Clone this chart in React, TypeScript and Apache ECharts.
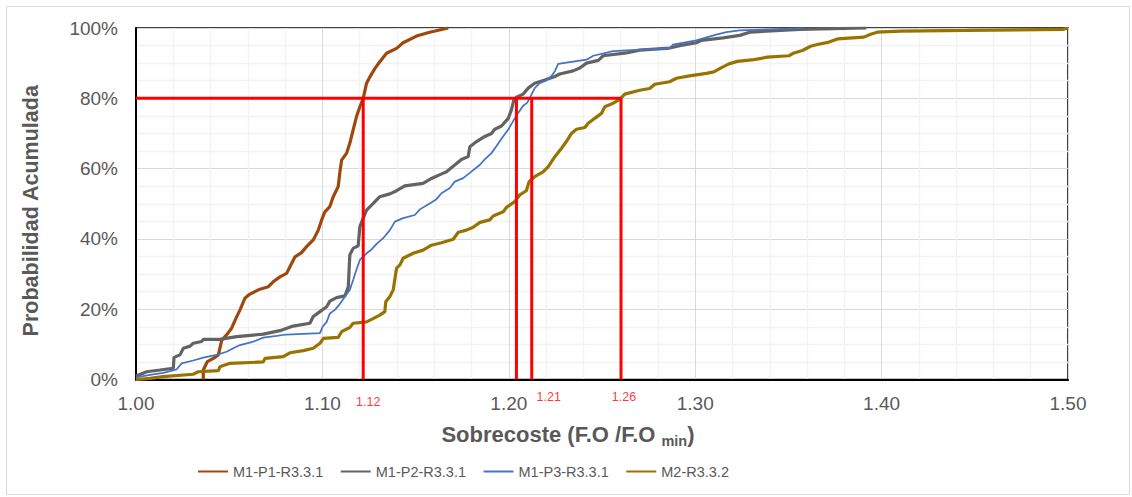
import React, { useEffect, useRef } from "react";
import * as echarts from "echarts";

const seriesNames = ["M1-P1-R3.3.1", "M1-P2-R3.3.1", "M1-P3-R3.3.1", "M2-R3.3.2"];

const m1p1: number[][] = [
  [1.0361, 0], [1.0361, 0.027], [1.0383, 0.051], [1.0415, 0.06], [1.0442, 0.07], [1.046, 0.112],
  [1.0486, 0.127], [1.0513, 0.146], [1.0536, 0.174], [1.0558, 0.198], [1.0584, 0.231], [1.0611, 0.243],
  [1.0665, 0.257], [1.071, 0.264], [1.0736, 0.278], [1.0772, 0.292], [1.0808, 0.302], [1.0826, 0.321],
  [1.0853, 0.349], [1.0888, 0.361], [1.0915, 0.378], [1.0951, 0.397], [1.0978, 0.425], [1.0996, 0.454],
  [1.1013, 0.477], [1.104, 0.492], [1.1058, 0.52], [1.1085, 0.549], [1.1094, 0.591], [1.1103, 0.624],
  [1.113, 0.644], [1.1147, 0.672], [1.1165, 0.71], [1.1183, 0.748], [1.1201, 0.776], [1.1219, 0.8],
  [1.1237, 0.843], [1.1255, 0.861], [1.1282, 0.885], [1.1308, 0.904], [1.1344, 0.928], [1.1398, 0.942],
  [1.1433, 0.958], [1.1505, 0.977], [1.1576, 0.988], [1.1675, 1.0],
];

const m1p2: number[][] = [
  [1.0, 0.01], [1.0057, 0.022], [1.0129, 0.027], [1.02, 0.032], [1.0204, 0.063], [1.0236, 0.07],
  [1.0254, 0.089], [1.029, 0.095], [1.0307, 0.103], [1.0352, 0.108], [1.0361, 0.114], [1.045, 0.114],
  [1.054, 0.122], [1.0683, 0.129], [1.0772, 0.139], [1.0843, 0.152], [1.0933, 0.16], [1.0951, 0.179],
  [1.0987, 0.193], [1.1023, 0.207], [1.104, 0.223], [1.1076, 0.233], [1.1121, 0.238], [1.1139, 0.264],
  [1.1147, 0.354], [1.1165, 0.373], [1.1192, 0.38], [1.1201, 0.435], [1.1219, 0.459], [1.1237, 0.482],
  [1.1273, 0.501], [1.1308, 0.52], [1.1362, 0.528], [1.1398, 0.537], [1.1442, 0.551], [1.154, 0.558],
  [1.1585, 0.572], [1.164, 0.585], [1.1666, 0.591], [1.171, 0.61], [1.1746, 0.626], [1.1782, 0.634],
  [1.1791, 0.662], [1.1827, 0.677], [1.1863, 0.689], [1.1907, 0.7], [1.1925, 0.712], [1.1961, 0.721],
  [1.1997, 0.743], [1.2014, 0.767], [1.2027, 0.795], [1.2041, 0.803], [1.2077, 0.812], [1.2104, 0.829],
  [1.2139, 0.843], [1.2193, 0.852], [1.2247, 0.862], [1.2273, 0.869], [1.2345, 0.878], [1.2381, 0.886],
  [1.2417, 0.9], [1.248, 0.908], [1.2506, 0.921], [1.2631, 0.929], [1.2702, 0.937], [1.2863, 0.943],
  [1.2917, 0.95], [1.3006, 0.958], [1.3033, 0.965], [1.3149, 0.972], [1.3239, 0.979], [1.3292, 0.988],
  [1.356, 0.996], [1.3918, 1.0],
];

const m1p3: number[][] = [
  [1.0, 0.006], [1.0075, 0.013], [1.0146, 0.019], [1.0218, 0.029], [1.0245, 0.046], [1.0307, 0.054],
  [1.0361, 0.062], [1.0433, 0.07], [1.0486, 0.079], [1.0522, 0.089], [1.0558, 0.098], [1.063, 0.108],
  [1.0683, 0.119], [1.0754, 0.124], [1.0808, 0.128], [1.0987, 0.132], [1.1001, 0.15], [1.1023, 0.164],
  [1.104, 0.188], [1.1067, 0.198], [1.1094, 0.215], [1.1121, 0.236], [1.1147, 0.255], [1.1165, 0.283],
  [1.1183, 0.313], [1.1201, 0.34], [1.1237, 0.359], [1.1264, 0.37], [1.1291, 0.386], [1.1326, 0.402],
  [1.1362, 0.425], [1.1389, 0.449], [1.1433, 0.459], [1.1496, 0.468], [1.1523, 0.484], [1.1576, 0.501],
  [1.1612, 0.513], [1.1639, 0.53], [1.1684, 0.545], [1.171, 0.563], [1.1755, 0.573], [1.1791, 0.588],
  [1.1845, 0.611], [1.1871, 0.626], [1.1907, 0.644], [1.1934, 0.664], [1.197, 0.692], [1.1997, 0.711],
  [1.2023, 0.735], [1.205, 0.758], [1.2077, 0.779], [1.2098, 0.787], [1.2113, 0.801], [1.2139, 0.829],
  [1.2166, 0.843], [1.2202, 0.851], [1.2228, 0.863], [1.2247, 0.877], [1.2265, 0.898], [1.2417, 0.91],
  [1.2453, 0.921], [1.256, 0.934], [1.2863, 0.943], [1.2881, 0.953], [1.3006, 0.965], [1.3113, 0.981],
  [1.3167, 0.988], [1.3239, 0.993], [1.358, 1.0],
];

const m2: number[][] = [
  [1.0, 0.0], [1.0075, 0.003], [1.0146, 0.008], [1.0307, 0.015], [1.0334, 0.022], [1.0442, 0.025],
  [1.045, 0.036], [1.0504, 0.046], [1.0683, 0.05], [1.0692, 0.06], [1.079, 0.065], [1.0826, 0.076],
  [1.0897, 0.082], [1.0951, 0.089], [1.0987, 0.103], [1.1005, 0.117], [1.1085, 0.12], [1.1103, 0.136],
  [1.1147, 0.148], [1.1165, 0.16], [1.1237, 0.164], [1.1264, 0.171], [1.1308, 0.183], [1.1335, 0.193],
  [1.134, 0.221], [1.1362, 0.236], [1.138, 0.255], [1.1398, 0.317], [1.1416, 0.326], [1.1433, 0.345],
  [1.1487, 0.359], [1.154, 0.368], [1.1585, 0.382], [1.1639, 0.389], [1.1702, 0.399], [1.1729, 0.419],
  [1.1773, 0.425], [1.1809, 0.433], [1.1845, 0.447], [1.1898, 0.454], [1.1916, 0.465], [1.197, 0.477],
  [1.1988, 0.49], [1.2032, 0.506], [1.2059, 0.525], [1.2094, 0.537], [1.2109, 0.563], [1.2139, 0.577],
  [1.2184, 0.591], [1.2211, 0.605], [1.2247, 0.634], [1.2283, 0.658], [1.2309, 0.677], [1.2336, 0.7],
  [1.2363, 0.712], [1.2408, 0.717], [1.2426, 0.729], [1.2461, 0.743], [1.2497, 0.757], [1.2515, 0.776],
  [1.256, 0.786], [1.2595, 0.797], [1.2622, 0.812], [1.2702, 0.823], [1.2756, 0.828], [1.2783, 0.84],
  [1.2863, 0.847], [1.2899, 0.857], [1.297, 0.864], [1.306, 0.871], [1.31, 0.875], [1.3136, 0.886],
  [1.3181, 0.898], [1.3226, 0.905], [1.3315, 0.91], [1.3387, 0.917], [1.3503, 0.921], [1.353, 0.929],
  [1.3575, 0.936], [1.3619, 0.948], [1.3655, 0.953], [1.3718, 0.96], [1.3763, 0.969], [1.3905, 0.974],
  [1.3941, 0.982], [1.3977, 0.988], [1.4102, 0.991], [1.4459, 0.993], [1.4972, 0.996], [1.5, 1.0],
];

// reference (red) lines
const refLevel = 0.8;
const refXs = [1.1219, 1.2041, 1.2123, 1.2602];
const refLabelXs = [1.1219, 1.2123, 1.2602];
const refLabelTexts = ["1.12", "1.21", "1.26"];

const xMin = 1.0;
const xMax = 1.5;
const xStep = 0.1;
const yMin = 0;
const yMax = 1;
const yStep = 0.2;

const colors = ["#9E480E", "#636363", "#4472C4", "#997300"];
const widths = [3.2, 3.2, 1.75, 3.2];
const FONT = "'Liberation Sans', Arial, sans-serif";
const TXT = "#595959";

export default function App() {
  const ref = useRef<HTMLDivElement>(null);

  useEffect(() => {
    if (!ref.current) return;
    const chart = echarts.init(ref.current, null, { renderer: "svg" });
    const curves = [m1p1, m1p2, m1p3, m2];
    const labelOffsets = [
      [5, 22],
      [17, 17],
      [3, 17],
    ];
    const series: any[] = curves.map((d, i) => ({
      name: seriesNames[i],
      type: "line",
      data: d,
      symbol: "none",
      showSymbol: false,
      z: 3,
      lineStyle: { color: colors[i], width: widths[i] },
      itemStyle: { color: colors[i] },
    }));
    series.push({
      name: "ref-h",
      type: "line",
      data: [
        [xMin, refLevel],
        [refXs[refXs.length - 1], refLevel],
      ],
      symbol: "none",
      z: 4,
      lineStyle: { color: "#FF0000", width: 3 },
    });
    refXs.forEach((x, i) => {
      series.push({
        name: "ref-v" + i,
        type: "line",
        data: [
          [x, yMin],
          [x, refLevel],
        ],
        symbol: "none",
        z: 4,
        lineStyle: { color: "#FF0000", width: 3 },
      });
    });
    series.push({
      name: "ref-labels",
      type: "scatter",
      symbolSize: 1,
      itemStyle: { color: "rgba(0,0,0,0)" },
      silent: true,
      z: 5,
      data: refLabelXs.map((x, i) => ({
        value: [x, yMin],
        name: refLabelTexts[i],
        label: { offset: labelOffsets[i] },
      })),
      label: {
        show: true,
        position: "inside",
        formatter: (p: any) => p.name,
        color: "#FF0000",
        fontSize: 12.5,
        fontFamily: FONT,
      },
    });

    chart.setOption({
      animation: false,
      backgroundColor: "#ffffff",
      grid: {
        left: 136,
        right: 64,
        top: 28,
        bottom: 117.5,
        show: true,
        borderColor: "#000000",
        borderWidth: 1.5,
        containLabel: false,
      },
      legend: {
        data: seriesNames,
        left: 192,
        top: 459,
        itemWidth: 30,
        itemHeight: 14,
        itemGap: 16.5,
        itemStyle: { opacity: 0 },
        textStyle: {
          color: TXT,
          fontSize: 14.5,
          fontFamily: FONT,
        },
      },
      xAxis: {
        type: "value",
        min: xMin,
        max: xMax,
        interval: xStep,
        axisLine: { show: true, lineStyle: { color: "#000000", width: 2 } },
        axisTick: { show: false },
        axisLabel: {
          color: TXT,
          fontSize: 19,
          fontFamily: FONT,
          margin: 14,
          formatter: (v: number) => v.toFixed(2),
        },
        splitLine: { show: true, lineStyle: { color: "#D9D9D9", width: 1 } },
        minorTick: { show: false, splitNumber: 5 },
        minorSplitLine: { show: true, lineStyle: { color: "#F2F2F2", width: 1.3 } },
      },
      yAxis: {
        type: "value",
        min: yMin,
        max: yMax,
        interval: yStep,
        name: "Probabilidad Acumulada",
        nameLocation: "middle",
        nameRotate: 90,
        nameGap: 94,
        nameTextStyle: {
          color: TXT,
          fontSize: 21.5,
          fontWeight: "bold",
          fontFamily: FONT,
          padding: [0, 14, 0, 0],
        },
        axisLine: { show: true, lineStyle: { color: "#000000", width: 2 } },
        axisTick: { show: false },
        axisLabel: {
          color: TXT,
          fontSize: 19,
          fontFamily: FONT,
          margin: 18,
          formatter: (v: number) => Math.round(v * 100) + "%",
        },
        splitLine: { show: true, lineStyle: { color: "#D9D9D9", width: 1 } },
        minorTick: { show: false, splitNumber: 4 },
        minorSplitLine: { show: true, lineStyle: { color: "#F2F2F2", width: 1.3 } },
      },
      graphic: [
        {
          type: "rect",
          silent: true,
          z: -10,
          shape: { x: 6.5, y: 6.5, width: 1123, height: 488 },
          style: { fill: "none", stroke: "#D9D9D9", lineWidth: 1 },
        },
        {
          type: "text",
          x: 568,
          y: 434,
          style: {
            text: "{a|Sobrecoste (F.O /F.O }{b|min}{a|)}",
            align: "center",
            verticalAlign: "middle",
            rich: {
              a: {
                fontSize: 22,
                fontWeight: "bold",
                fontFamily: FONT,
                fill: TXT,
                color: TXT,
                lineHeight: 28,
              },
              b: {
                fontSize: 14.5,
                fontWeight: "bold",
                fontFamily: FONT,
                fill: TXT,
                color: TXT,
                lineHeight: 14,
                verticalAlign: "bottom",
              },
            },
          },
        },
      ],
      series,
    });
    return () => chart.dispose();
  }, []);

  return (
    <div
      ref={ref}
      style={{ position: "fixed", left: 0, top: 0, width: 1132, height: 497, background: "#fff" }}
    />
  );
}
